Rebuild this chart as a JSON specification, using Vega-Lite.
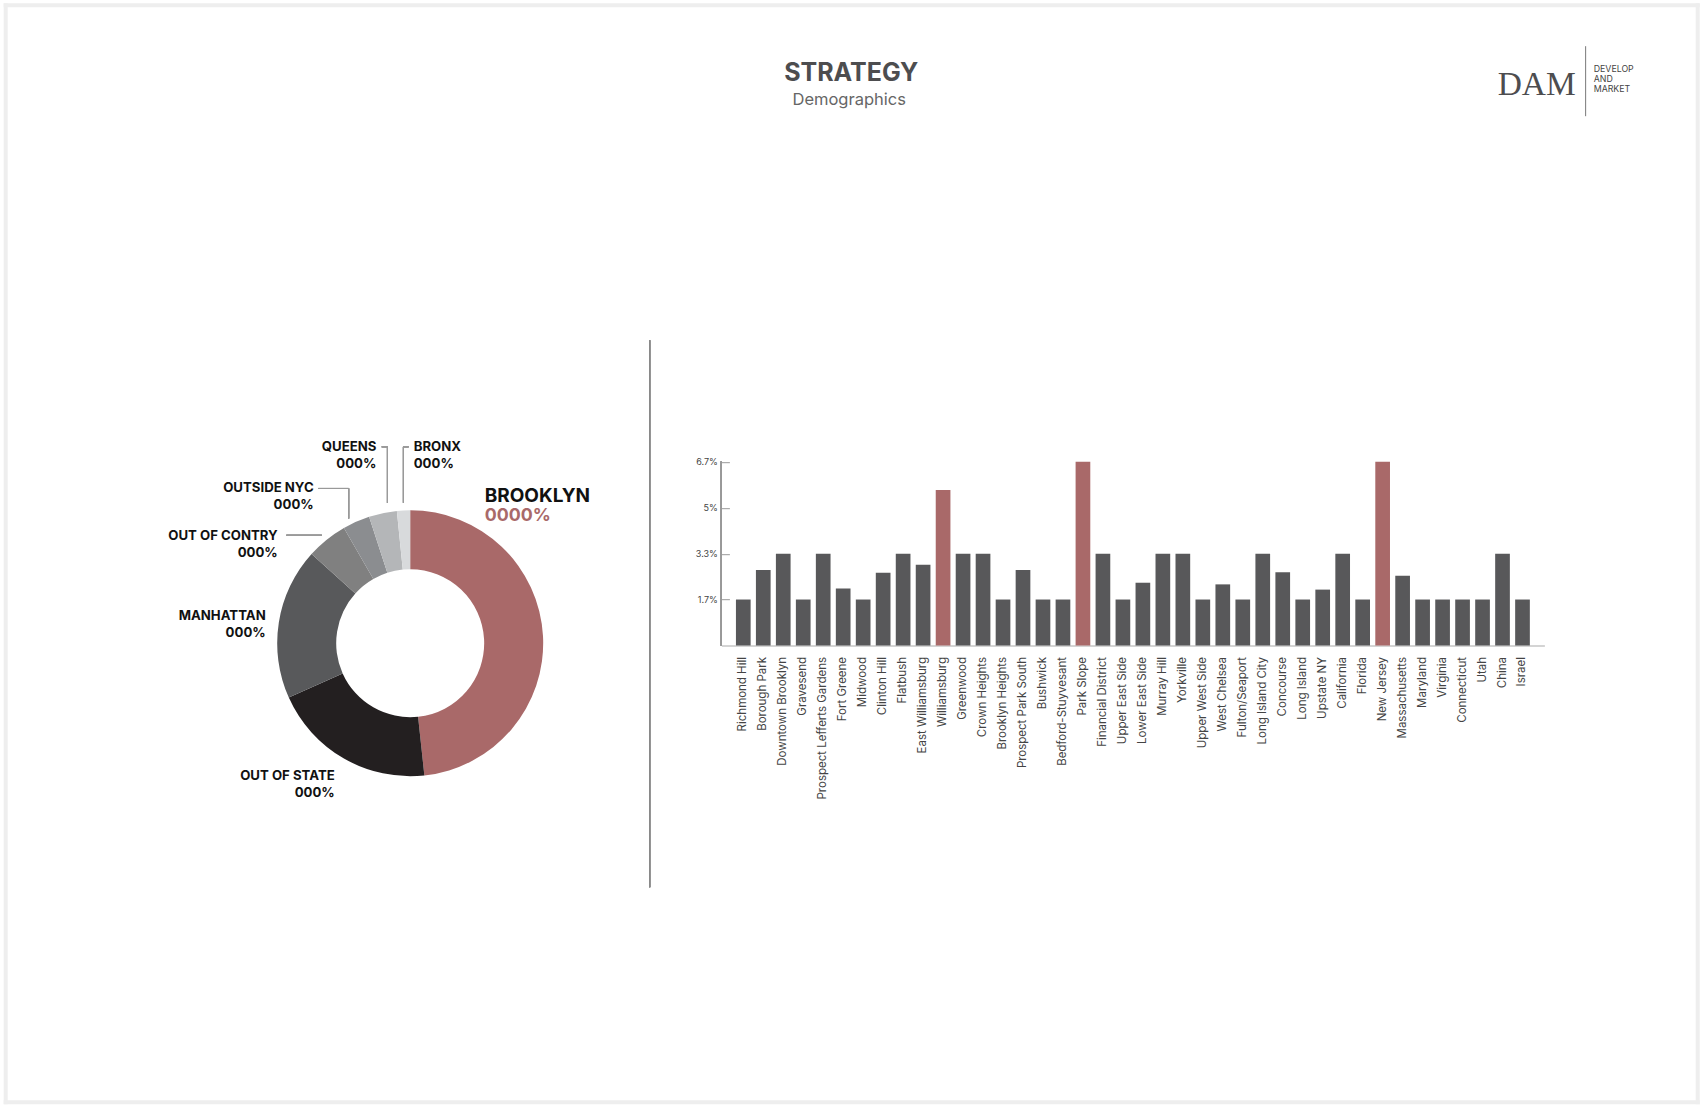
{
  "$schema": "https://vega.github.io/schema/vega-lite/v6.json",
  "background": "white",
  "padding": {"left": 0.7, "top": 1.2, "right": 0, "bottom": 0},
  "config": {
    "view": {"stroke": null},
    "rule": {"color": "#9a9a9a", "strokeWidth": 1},
    "text": {"font": "Inter", "color": "#111111", "fontSize": 13.2, "fontWeight": "bold", "lineHeight": 16.5, "baseline": "alphabetic"}
  },
  "spacing": 0,
  "bounds": "flush",
  "vconcat": [
    {
      "width": 1688,
      "height": 333,
      "data": {"values": [{}]},
      "layer": [
        {
          "mark": {"type": "rule", "color": "#eeeeee", "strokeWidth": 4},
          "encoding": {
            "x": {"datum": -0.118, "axis": null, "scale": {"domain": [0, 100]}},
            "y": {"datum": -1.2, "axis": null, "scale": {"domain": [100, 0]}},
            "y2": {"datum": 329.43}
          }
        },
        {"mark": {"type": "rule", "color": "#eeeeee", "strokeWidth": 4}, "encoding": {"x": {"datum": 100.118, "axis": null}, "y": {"datum": -1.2, "axis": null}, "y2": {"datum": 329.43}}},
        {"mark": {"type": "rule", "color": "#eeeeee", "strokeWidth": 4}, "encoding": {"x": {"datum": -0.237, "axis": null}, "x2": {"datum": 100.237}, "y": {"datum": -0.6, "axis": null}}},
        {"mark": {"type": "rule", "color": "#eeeeee", "strokeWidth": 4}, "encoding": {"x": {"datum": -0.237, "axis": null}, "x2": {"datum": 100.237}, "y": {"datum": 328.83, "axis": null}}},
        {
          "mark": {"type": "text", "text": "STRATEGY", "align": "center", "fontSize": 25, "color": "#4d4d4f"},
          "encoding": {"x": {"datum": 49.97, "axis": null}, "y": {"datum": 22.31, "axis": null}}
        },
        {
          "mark": {"type": "text", "text": "Demographics", "align": "center", "fontSize": 16.5, "fontWeight": "normal", "color": "#666666"},
          "encoding": {"x": {"datum": 49.85, "axis": null}, "y": {"datum": 29.43, "axis": null}}
        },
        {
          "mark": {"type": "text", "text": "DAM", "align": "left", "font": "Liberation Serif", "fontSize": 33.5, "fontWeight": "normal", "color": "#4d4d4f"},
          "encoding": {"x": {"datum": 88.27, "axis": null}, "y": {"datum": 26.43, "axis": null}}
        },
        {
          "mark": {"type": "rule", "color": "#777777"},
          "encoding": {"x": {"datum": 93.48, "axis": null}, "y": {"datum": 11.71, "axis": null}, "y2": {"datum": 32.73}}
        },
        {
          "mark": {"type": "text", "text": "DEVELOP\nAND\nMARKET", "lineBreak": "\n", "align": "left", "fontSize": 8.8, "fontWeight": "normal", "lineHeight": 9.8, "color": "#444444"},
          "encoding": {"x": {"datum": 93.96, "axis": null}, "y": {"datum": 19.52, "axis": null}}
        }
      ]
    },
    {
      "spacing": 6.7,
      "hconcat": [
        {
          "width": 680,
          "height": 560,
          "data": {
            "values": [
              {"region": "Brooklyn", "rank": 1, "share": 48.3, "label": "BROOKLYN"},
              {"region": "Out of state", "rank": 2, "share": 20.0, "label": "OUT OF STATE\n000%"},
              {"region": "Manhattan", "rank": 3, "share": 18.4, "label": "MANHATTAN\n000%"},
              {"region": "Out of contry", "rank": 4, "share": 5.0, "label": "OUT OF CONTRY\n000%"},
              {"region": "Outside NYC", "rank": 5, "share": 3.3, "label": "OUTSIDE NYC\n000%"},
              {"region": "Queens", "rank": 6, "share": 3.4, "label": "QUEENS\n000%"},
              {"region": "Bronx", "rank": 7, "share": 1.6, "label": "BRONX\n000%"}
            ]
          },
          "layer": [
            {
              "mark": {"type": "arc", "innerRadius": 74, "outerRadius": 133},
              "encoding": {
                "x": {"datum": 59.19, "axis": null, "scale": {"domain": [0, 100]}},
                "y": {"datum": 54.11, "axis": null, "scale": {"domain": [100, 0]}},
                "theta": {"field": "share", "type": "quantitative", "stack": true, "scale": {"range": [0, 6.2832]}},
                "order": {"field": "rank"},
                "color": {
                  "field": "region",
                  "legend": null,
                  "scale": {
                    "domain": ["Brooklyn", "Out of state", "Manhattan", "Out of contry", "Outside NYC", "Queens", "Bronx"],
                    "range": ["#a96969", "#231f20", "#58595b", "#808080", "#8b8d90", "#b4b6b8", "#d8dadc"]
                  }
                }
              }
            },
            {
              "transform": [{"filter": "datum.region == 'Queens'"}],
              "mark": {"type": "text", "align": "right", "lineBreak": "\n"},
              "encoding": {"x": {"datum": 54.22, "axis": null}, "y": {"datum": 19.82, "axis": null}, "text": {"field": "label"}}
            },
            {
              "transform": [{"filter": "datum.region == 'Bronx'"}],
              "mark": {"type": "text", "align": "left", "lineBreak": "\n"},
              "encoding": {"x": {"datum": 59.71, "axis": null}, "y": {"datum": 19.82, "axis": null}, "text": {"field": "label"}}
            },
            {
              "transform": [{"filter": "datum.region == 'Outside NYC'"}],
              "mark": {"type": "text", "align": "right", "lineBreak": "\n"},
              "encoding": {"x": {"datum": 45.0, "axis": null}, "y": {"datum": 27.14, "axis": null}, "text": {"field": "label"}}
            },
            {
              "transform": [{"filter": "datum.region == 'Out of contry'"}],
              "mark": {"type": "text", "align": "right", "lineBreak": "\n"},
              "encoding": {"x": {"datum": 39.71, "axis": null}, "y": {"datum": 35.71, "axis": null}, "text": {"field": "label"}}
            },
            {
              "transform": [{"filter": "datum.region == 'Manhattan'"}],
              "mark": {"type": "text", "align": "right", "lineBreak": "\n"},
              "encoding": {"x": {"datum": 37.94, "axis": null}, "y": {"datum": 50, "axis": null}, "text": {"field": "label"}}
            },
            {
              "transform": [{"filter": "datum.region == 'Out of state'"}],
              "mark": {"type": "text", "align": "right", "lineBreak": "\n"},
              "encoding": {"x": {"datum": 48.09, "axis": null}, "y": {"datum": 78.57, "axis": null}, "text": {"field": "label"}}
            },
            {
              "transform": [{"filter": "datum.region == 'Brooklyn'"}],
              "mark": {"type": "text", "align": "left", "fontSize": 19},
              "encoding": {"x": {"datum": 70.15, "axis": null}, "y": {"datum": 28.88, "axis": null}, "text": {"field": "label"}}
            },
            {
              "transform": [{"filter": "datum.region == 'Brooklyn'"}],
              "mark": {"type": "text", "text": "0000%", "align": "left", "fontSize": 17.8, "color": "#a96969"},
              "encoding": {"x": {"datum": 70.15, "axis": null}, "y": {"datum": 32.32, "axis": null}}
            },
            {"mark": "rule", "encoding": {"x": {"datum": 55.0, "axis": null}, "x2": {"datum": 55.84}, "y": {"datum": 19.05, "axis": null}}},
            {"mark": "rule", "encoding": {"x": {"datum": 55.84, "axis": null}, "y": {"datum": 19.05, "axis": null}, "y2": {"datum": 29.05}}},
            {"mark": "rule", "encoding": {"x": {"datum": 58.19, "axis": null}, "x2": {"datum": 58.97}, "y": {"datum": 19.05, "axis": null}}},
            {"mark": "rule", "encoding": {"x": {"datum": 58.19, "axis": null}, "y": {"datum": 19.05, "axis": null}, "y2": {"datum": 29.05}}},
            {"mark": "rule", "encoding": {"x": {"datum": 45.69, "axis": null}, "x2": {"datum": 50.15}, "y": {"datum": 26.48, "axis": null}}},
            {"mark": "rule", "encoding": {"x": {"datum": 50.15, "axis": null}, "y": {"datum": 26.48, "axis": null}, "y2": {"datum": 31.84}}},
            {"mark": "rule", "encoding": {"x": {"datum": 40.99, "axis": null}, "x2": {"datum": 46.18}, "y": {"datum": 34.82, "axis": null}}},
            {
              "mark": {"type": "rule", "color": "#8a8a8a", "strokeWidth": 1.2},
              "encoding": {"x": {"datum": 94.41, "axis": null}, "y": {"datum": 0, "axis": null}, "y2": {"datum": 97.68}}
            }
          ]
        },
        {
          "width": 823,
          "height": 305.3,
          "data": {
            "values": [
              {"area": "Richmond Hill", "share": 1.67},
              {"area": "Borough Park", "share": 2.74},
              {"area": "Downtown Brooklyn", "share": 3.33},
              {"area": "Gravesend", "share": 1.67},
              {"area": "Prospect Lefferts Gardens", "share": 3.33},
              {"area": "Fort Greene", "share": 2.07},
              {"area": "Midwood", "share": 1.67},
              {"area": "Clinton Hill", "share": 2.64},
              {"area": "Flatbush", "share": 3.33},
              {"area": "East Williamsburg", "share": 2.93},
              {"area": "Williamsburg", "share": 5.65},
              {"area": "Greenwood", "share": 3.33},
              {"area": "Crown Heights", "share": 3.33},
              {"area": "Brooklyn Heights", "share": 1.67},
              {"area": "Prospect Park South", "share": 2.74},
              {"area": "Bushwick", "share": 1.67},
              {"area": "Bedford-Stuyvesant", "share": 1.67},
              {"area": "Park Slope", "share": 6.67},
              {"area": "Financial District", "share": 3.33},
              {"area": "Upper East Side", "share": 1.67},
              {"area": "Lower East Side", "share": 2.28},
              {"area": "Murray Hill", "share": 3.33},
              {"area": "Yorkville", "share": 3.33},
              {"area": "Upper West Side", "share": 1.67},
              {"area": "West Chelsea", "share": 2.22},
              {"area": "Fulton/Seaport", "share": 1.67},
              {"area": "Long Island City", "share": 3.33},
              {"area": "Concourse", "share": 2.66},
              {"area": "Long Island", "share": 1.67},
              {"area": "Upstate NY", "share": 2.03},
              {"area": "California", "share": 3.33},
              {"area": "Florida", "share": 1.67},
              {"area": "New Jersey", "share": 6.67},
              {"area": "Massachusetts", "share": 2.53},
              {"area": "Maryland", "share": 1.67},
              {"area": "Virginia", "share": 1.67},
              {"area": "Connecticut", "share": 1.67},
              {"area": "Utah", "share": 1.67},
              {"area": "China", "share": 3.33},
              {"area": "Israel", "share": 1.67}
            ]
          },
          "resolve": {"scale": {"x": "independent"}},
          "layer": [
            {
              "mark": "bar",
              "encoding": {
                "x": {
                  "field": "area",
                  "type": "nominal",
                  "sort": null,
                  "title": null,
                  "scale": {"paddingInner": 0.265, "paddingOuter": 0.728},
                  "axis": {
                    "labelAngle": 270,
                    "labelPadding": 11,
                    "labelFont": "Inter",
                    "labelFontSize": 11.5,
                    "labelColor": "#444444",
                    "labelOverlap": false,
                    "ticks": false,
                    "domainColor": "#aaaaaa",
                    "domainWidth": 1.2
                  }
                },
                "y": {
                  "field": "share",
                  "type": "quantitative",
                  "title": null,
                  "scale": {"domain": [0, 11.09], "nice": false},
                  "axis": {
                    "values": [1.67, 3.33, 5, 6.67],
                    "labelExpr": "datum.value == 5 ? '5%' : format(datum.value, '.1f') + '%'",
                    "domain": false,
                    "grid": false,
                    "tickSize": -8,
                    "tickColor": "#999999",
                    "labelPadding": 12,
                    "labelFont": "Inter",
                    "labelFontSize": 9,
                    "labelColor": "#444444"
                  }
                },
                "color": {
                  "condition": {"test": "indexof(['Williamsburg', 'Park Slope', 'New Jersey'], datum.area) >= 0", "value": "#a96969"},
                  "value": "#58585a"
                }
              }
            },
            {
              "mark": {"type": "rule", "color": "#999999", "strokeWidth": 1.2},
              "encoding": {
                "x": {"datum": 0, "axis": null, "scale": {"domain": [0, 1]}},
                "y": {"datum": 0},
                "y2": {"datum": 6.67}
              }
            }
          ]
        }
      ]
    }
  ]
}
